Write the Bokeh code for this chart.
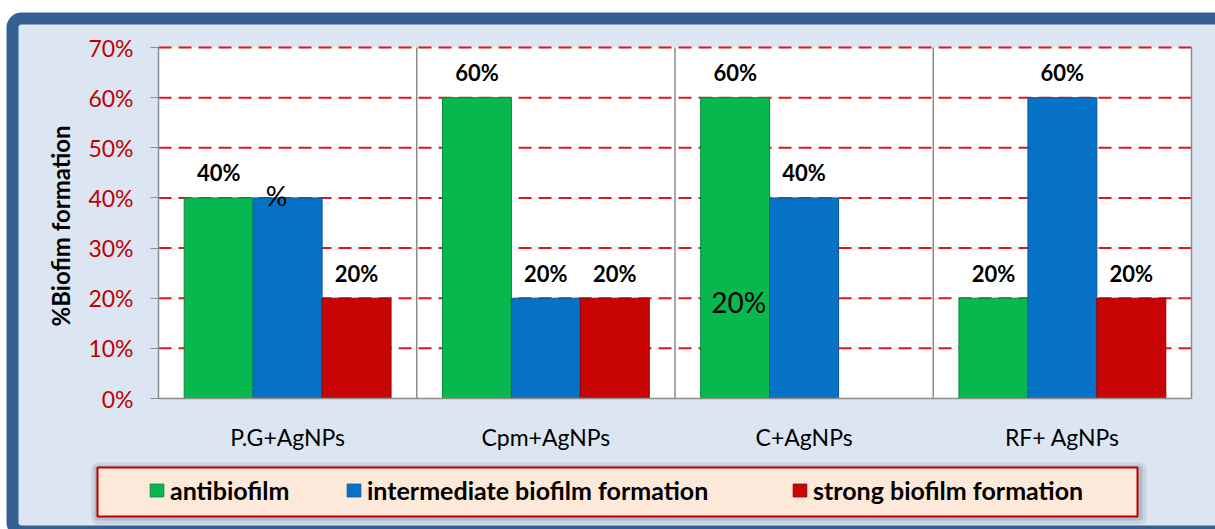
from bokeh.plotting import figure
from bokeh.models import (Range1d, FixedTicker, PrintfTickFormatter, BoxAnnotation,
                          Legend, LegendItem, ColumnDataSource, LinearAxis)
from bokeh.transform import dodge
from bokeh.core.properties import value
from bokeh.embed import file_html
from bokeh.resources import INLINE

# ---------------- data ----------------
categories = ["P.G+AgNPs", "Cpm+AgNPs", "C+AgNPs", "RF+ AgNPs"]
series_names = ["antibiofilm", "intermediate biofilm formation", "strong biofilm formation"]
antibiofilm = [40, 60, 60, 20]
intermediate = [40, 20, 40, 60]
strong = [20, 20, 0, 20]
antibiofilm_labels = ["40%", "60%", "60%", "20%"]
intermediate_labels = ["", "20%", "40%", "60%"]
strong_labels = ["20%", "20%", "", "20%"]
# stray labels visible in the original chart
stray_pct_cat = ["P.G+AgNPs"]
stray_pct_val = [40]
stray_pct_text = ["%"]
stray_20_cat = ["C+AgNPs"]
stray_20_val = [20]
stray_20_text = ["20%"]
y_ticks = [0, 10, 20, 30, 40, 50, 60, 70]
y_label = "%Biofim  formation"

colors = ["#07b84f", "#0672c6", "#c80404"]
edge_colors = ["#05893b", "#0557a0", "#950303"]
FONT = "Lato"

W, H = 1215, 529
# pixel layout of the plotting area inside the canvas
PL, PR, PT, PB = 158, 1191, 47, 398
n = len(categories)
ymax = y_ticks[-1]
xpx = (PR - PL) / n
ypx = (PB - PT) / ymax
x_range = Range1d(-PL / xpx, n + (W - PR) / xpx)
y_range = Range1d(-(H - PB) / ypx, ymax + PT / ypx)

p = figure(width=W, height=H, x_range=x_range, y_range=y_range,
           output_backend="svg", toolbar_location=None,
           x_axis_location=None, y_axis_location=None,
           min_border=0, min_border_left=0, min_border_right=0,
           min_border_top=0, min_border_bottom=0)
p.outline_line_color = None
p.background_fill_color = "white"
p.border_fill_color = "white"
p.xgrid.visible = False
p.ygrid.visible = False


def canvas_box(**kw):
    return BoxAnnotation(left_units="canvas", right_units="canvas",
                         top_units="canvas", bottom_units="canvas", level="image", **kw)


# outer dark-blue frame with light-blue fill
p.add_layout(canvas_box(left=12, right=W + 30, top=18, bottom=531,
                        fill_color="#dce6f2", fill_alpha=1, line_color="#376092",
                        line_alpha=1, line_width=12, border_radius=9))
# legend shadow and legend box
p.add_layout(canvas_box(left=91, right=1146, top=462, bottom=524,
                        fill_color="#5f6f85", fill_alpha=0.15, line_color=None, border_radius=7))
p.add_layout(canvas_box(left=94, right=1142, top=465, bottom=520,
                        fill_color="#5f6f85", fill_alpha=0.25, line_color=None, border_radius=4))
p.add_layout(canvas_box(left=97, right=1137, top=467, bottom=516,
                        fill_color="#fde9d9", fill_alpha=1, line_color="#c00000",
                        line_alpha=1, line_width=2))
# white plot area
p.add_layout(BoxAnnotation(left=0, right=n, bottom=0, top=ymax, fill_color="white",
                           fill_alpha=1, line_color=None, level="image"))

# horizontal dashed gridlines
gl = ColumnDataSource(dict(y=y_ticks[1:], x0=[0] * (len(y_ticks) - 1),
                           x1=[n] * (len(y_ticks) - 1)))
p.segment(x0="x0", x1="x1", y0="y", y1="y", source=gl, line_color="#e0161b",
          line_width=2, line_dash="13 7")
# category separators and right border
sep = ColumnDataSource(dict(x=list(range(1, n + 1)), y0=[0] * n, y1=[ymax] * n))
p.segment(x0="x", x1="x", y0="y0", y1="y1", source=sep, line_color="#8c8c8c", line_width=1.5)

xs = [i + 0.5 for i in range(n)]
src = ColumnDataSource(dict(x=xs, a=antibiofilm, b=intermediate, c=strong,
                            la=antibiofilm_labels, lb=intermediate_labels, lc=strong_labels))
bw = 0.267
offs = [-0.267, 0.0, 0.267]
renderers = []
for col, off, c, ec in zip(["a", "b", "c"], offs, colors, edge_colors):
    r = p.vbar(x=dodge("x", off), top=col, width=bw, source=src,
               fill_color=c, line_color=ec, line_width=1)
    renderers.append(r)

for vcol, lcol, off in zip(["a", "b", "c"], ["la", "lb", "lc"], offs):
    p.text(x=dodge("x", off), y=vcol, text=lcol, source=src, text_align="center",
           text_baseline="middle", y_offset=-25, text_font=value(FONT),
           text_font_style="bold", text_font_size="22px", text_color="black")


def cat_x(cats):
    return [categories.index(c) + 0.5 for c in cats]


s1 = ColumnDataSource(dict(x=cat_x(stray_pct_cat), v=stray_pct_val, t=stray_pct_text))
p.text(x=dodge("x", offs[1] - 0.043), y="v", text="t", source=s1,
       text_align="center", text_baseline="middle", y_offset=-2,
       text_font=value(FONT), text_font_size="27px", text_color="black")
s2 = ColumnDataSource(dict(x=cat_x(stray_20_cat), v=stray_20_val, t=stray_20_text))
p.text(x=dodge("x", offs[0] + 0.014), y="v", text="t", source=s2,
       text_align="center", text_baseline="middle", y_offset=4,
       text_font=value(FONT), text_font_size="28px", text_color="black")

# axes (fixed at the plot-area edges)
ya = LinearAxis(fixed_location=0, bounds=(0, ymax))
ya.ticker = FixedTicker(ticks=y_ticks)
ya.formatter = PrintfTickFormatter(format="%d%%")
ya.major_label_text_color = "#c00000"
ya.major_label_text_font = FONT
ya.major_label_text_font_size = "23px"
ya.axis_line_color = "#8c8c8c"
ya.axis_line_width = 1.5
ya.major_tick_line_color = "#8c8c8c"
ya.major_tick_out = 8
ya.major_tick_in = 0
ya.minor_tick_line_color = None
ya.major_label_standoff = 17
ya.axis_label = y_label
ya.axis_label_text_font = FONT
ya.axis_label_text_font_style = "bold"
ya.axis_label_text_font_size = "24px"
ya.axis_label_text_color = "black"
ya.axis_label_standoff = 10
p.add_layout(ya, "left")

xa = LinearAxis(fixed_location=0, bounds=(0, n))
xa.ticker = FixedTicker(ticks=xs)
xa.major_label_overrides = {x: c for x, c in zip(xs, categories)}
xa.axis_line_color = "#8c8c8c"
xa.axis_line_width = 1.5
xa.major_tick_line_color = None
xa.minor_tick_line_color = None
xa.major_label_text_font = FONT
xa.major_label_text_font_size = "23px"
xa.major_label_text_color = "black"
xa.major_label_standoff = 18
p.add_layout(xa, "below")

# legends (one per item, positioned individually)
leg_x = [148, 345, 791]
for name, r, lx in zip(series_names, renderers, leg_x):
    lg = Legend(items=[LegendItem(label=name, renderers=[r])], location=(lx, 24),
                orientation="horizontal", background_fill_alpha=0, border_line_alpha=0,
                padding=0, margin=0, glyph_width=17, glyph_height=16, label_standoff=5,
                label_text_font=FONT, label_text_font_style="bold",
                label_text_color="black",
                label_text_font_size="25px", label_height=26)
    p.add_layout(lg, "center")

open("out.html", "w").write(file_html(p, INLINE))
